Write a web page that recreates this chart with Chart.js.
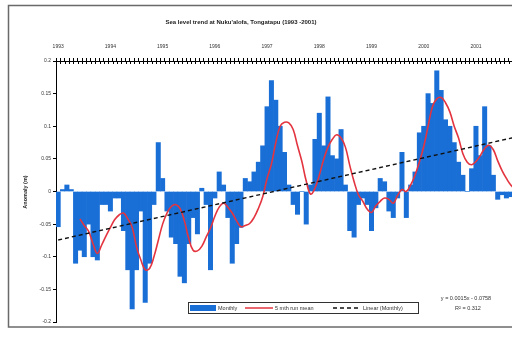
<!DOCTYPE html>
<html>
<head>
<meta charset="utf-8">
<script src="https://cdn.jsdelivr.net/npm/chart.js@4/dist/chart.umd.min.js"></script>
<style>
  html, body { margin: 0; padding: 0; background: #ffffff; overflow: hidden; }
  #wrap { width: 545px; height: 354px; }
</style>
</head>
<body>
<div id="wrap"><canvas id="c" width="545" height="354"></canvas></div>
<script>
// Monthly sea level anomaly (m), Nuku'alofa, Jan 1993 – Dec 2001
const years = [1993, 1994, 1995, 1996, 1997, 1998, 1999, 2000, 2001];
const monthly = [
  -0.054, 0.003, 0.010, 0.003, -0.110, -0.090, -0.100, -0.050, -0.100, -0.105, -0.020, -0.020,
  -0.030, -0.010, -0.010, -0.060, -0.120, -0.180, -0.120, -0.030, -0.170, -0.110, -0.020, 0.075,
  0.020, -0.030, -0.070, -0.080, -0.130, -0.140, -0.080, -0.040, -0.065, 0.005, -0.020, -0.120,
  -0.010, 0.030, 0.010, -0.040, -0.110, -0.080, -0.055, 0.020, 0.015, 0.030, 0.045, 0.070,
  0.130, 0.170, 0.140, 0.100, 0.060, 0.010, -0.020, -0.035, 0.000, -0.050, 0.010, 0.080,
  0.120, 0.070, 0.145, 0.055, 0.050, 0.095, 0.010, -0.060, -0.070, -0.020, -0.010, -0.020,
  -0.060, -0.025, 0.020, 0.015, -0.030, -0.040, -0.010, 0.060, -0.040, 0.010, 0.030, 0.090,
  0.100, 0.150, 0.135, 0.185, 0.155, 0.110, 0.100, 0.075, 0.045, 0.025, 0.000, 0.035,
  0.100, 0.055, 0.130, 0.070, 0.025, -0.012, -0.005, -0.010, -0.008, 0.030, 0.020, 0.010
];
// Smoothed running mean (m)
const runMean = [
  null, null, null, null, null, -0.042, -0.052, -0.061, -0.080, -0.095, -0.082, -0.068,
  -0.055, -0.043, -0.036, -0.033, -0.042, -0.055, -0.085, -0.105, -0.120, -0.118, -0.100, -0.075,
  -0.050, -0.033, -0.023, -0.020, -0.026, -0.045, -0.072, -0.090, -0.091, -0.084, -0.070, -0.056,
  -0.038, -0.024, -0.018, -0.024, -0.033, -0.045, -0.054, -0.052, -0.049, -0.040, -0.026, -0.008,
  0.020, 0.042, 0.075, 0.100, 0.106, 0.105, 0.095, 0.070, 0.046, 0.016, -0.004, 0.005,
  0.025, 0.049, 0.068, 0.080, 0.087, 0.082, 0.068, 0.040, 0.015, -0.005, -0.015, -0.027,
  -0.032, -0.022, -0.015, -0.010, -0.012, -0.018, -0.006, 0.003, 0.000, 0.010, 0.025, 0.045,
  0.069, 0.100, 0.130, 0.142, 0.144, 0.136, 0.122, 0.100, 0.082, 0.058, 0.045, 0.041,
  0.046, 0.055, 0.066, 0.071, 0.064, 0.047, 0.032, 0.020, 0.010, 0.004, 0.000, -0.003
];
// Linear trend of the monthly series, x = month number starting at 1
const trendSlope = 0.0015;
const trendIntercept = -0.0758;
const trendR2 = 0.312;
const yTicks = [0.2, 0.15, 0.1, 0.05, 0, -0.05, -0.1, -0.15, -0.2];

const monthLabels = [];
years.forEach(y => { for (let m = 1; m <= 12; m++) monthLabels.push(y + '-' + m); });
const last = monthLabels.length - 1;
const trend = monthLabels.map((_, i) =>
  (i === 0 || i === last) ? trendSlope * (i + 1) + trendIntercept : null);

const FONT = '"Liberation Sans", Arial, sans-serif';
const BLUE = '#1a6fd6';
const RED = '#e3343f';

const decor = {
  id: 'decor',
  afterDraw(chart) {
    const ctx = chart.ctx;
    const xs = chart.scales.x;
    const area = chart.chartArea;
    ctx.save();
    // outer frame
    ctx.strokeStyle = '#6a6a6a';
    ctx.lineWidth = 1.5;
    ctx.strokeRect(8.5, 5.5, 560, 321.5);

    // title
    ctx.fillStyle = '#222';
    ctx.font = 'bold 6px ' + FONT;
    ctx.textAlign = 'center';
    ctx.textBaseline = 'middle';
    ctx.fillText("Sea level trend at Nuku'alofa, Tongatapu (1993 -2001)", 241, 22);

    // y axis title
    ctx.save();
    ctx.translate(25, 192);
    ctx.rotate(-Math.PI / 2);
    ctx.font = 'bold 5.5px ' + FONT;
    ctx.fillText('Anomaly (m)', 0, 0);
    ctx.restore();

    // inner half of the monthly cross ticks on the top axis
    ctx.strokeStyle = '#000';
    ctx.lineWidth = 1;
    const half = (xs.getPixelForValue(1) - xs.getPixelForValue(0)) / 2;
    ctx.beginPath();
    for (let i = 0; i <= monthLabels.length; i++) {
      const px = Math.round(xs.getPixelForValue(i) - half) + 0.5;
      ctx.moveTo(px, area.top);
      ctx.lineTo(px, area.top + 3);
    }
    ctx.stroke();

    // legend
    const ds = chart.data.datasets;
    const lx = 188, ly = 302, lw = 230, lh = 11;
    ctx.fillStyle = '#fff';
    ctx.fillRect(lx, ly, lw, lh);
    ctx.strokeStyle = '#333';
    ctx.lineWidth = 1;
    ctx.strokeRect(lx + 0.5, ly + 0.5, lw, lh);
    ctx.font = '5.5px ' + FONT;
    ctx.textAlign = 'left';
    ctx.fillStyle = '#333';
    const cy = ly + lh / 2 + 0.5;
    ctx.fillStyle = ds[0].backgroundColor;
    ctx.fillRect(190, cy - 3, 26, 6);
    ctx.fillStyle = '#333';
    ctx.fillText(ds[0].label, 218, cy);
    ctx.strokeStyle = ds[1].borderColor;
    ctx.lineWidth = 1.5;
    ctx.beginPath(); ctx.moveTo(245, cy); ctx.lineTo(273, cy); ctx.stroke();
    ctx.fillText(ds[1].label, 275, cy);
    ctx.strokeStyle = ds[2].borderColor;
    ctx.setLineDash(ds[2].borderDash);
    ctx.beginPath(); ctx.moveTo(333, cy); ctx.lineTo(361, cy); ctx.stroke();
    ctx.setLineDash([]);
    ctx.fillText(ds[2].label, 363, cy);

    // trend equation
    ctx.textAlign = 'center';
    ctx.fillStyle = '#333';
    ctx.font = '5.5px ' + FONT;
    ctx.fillText('y = ' + trendSlope.toFixed(4) + 'x - ' + Math.abs(trendIntercept).toFixed(4), 466, 298);
    ctx.fillText('R\u00B2 = ' + trendR2.toFixed(3), 468, 308);
    ctx.restore();
  }
};

new Chart(document.getElementById('c'), {
  data: {
    labels: monthLabels,
    datasets: [
      {
        type: 'bar', label: 'Monthly', data: monthly,
        backgroundColor: BLUE, borderWidth: 0,
        barPercentage: 1.0, categoryPercentage: 1.0, order: 3
      },
      {
        type: 'line', label: '5 mth run mean', data: runMean,
        borderColor: RED, borderWidth: 1.6, pointRadius: 0,
        tension: 0.4, fill: false, order: 2
      },
      {
        type: 'line', label: 'Linear (Monthly)', data: trend,
        borderColor: '#111', borderWidth: 1.4, borderDash: [4, 3],
        pointRadius: 0, spanGaps: true, fill: false, order: 1
      }
    ]
  },
  options: {
    responsive: false,
    devicePixelRatio: 1,
    animation: false,
    layout: { padding: { left: 0, top: 0, right: 19, bottom: 32 } },
    plugins: { legend: { display: false }, tooltip: { enabled: false }, title: { display: false } },
    scales: {
      x: {
        type: 'category',
        position: 'top',
        offset: true,
        afterFit(s) { s.height = 61; },
        grid: { display: true, drawOnChartArea: false, drawTicks: true, tickLength: 3, color: '#000', offset: true },
        border: { display: true, color: '#000', width: 1 },
        ticks: {
          autoSkip: false, maxRotation: 0, minRotation: 0, padding: 8,
          color: '#333', font: { family: FONT, size: 5 },
          callback: (v, i) => (i % 12 === 0 ? String(years[i / 12]) : '')
        }
      },
      y: {
        min: -0.2, max: 0.2,
        afterFit(s) { s.width = 56; },
        afterBuildTicks(s) { s.ticks = yTicks.map(v => ({ value: v })); },
        grid: { display: true, drawOnChartArea: false, drawTicks: true, tickLength: 3, color: '#000' },
        border: { display: true, color: '#000', width: 1 },
        ticks: {
          padding: 2, color: '#333', font: { family: FONT, size: 5 },
          callback: v => String(Math.round(v * 100) / 100)
        }
      }
    }
  },
  plugins: [decor]
});
</script>
</body>
</html>
